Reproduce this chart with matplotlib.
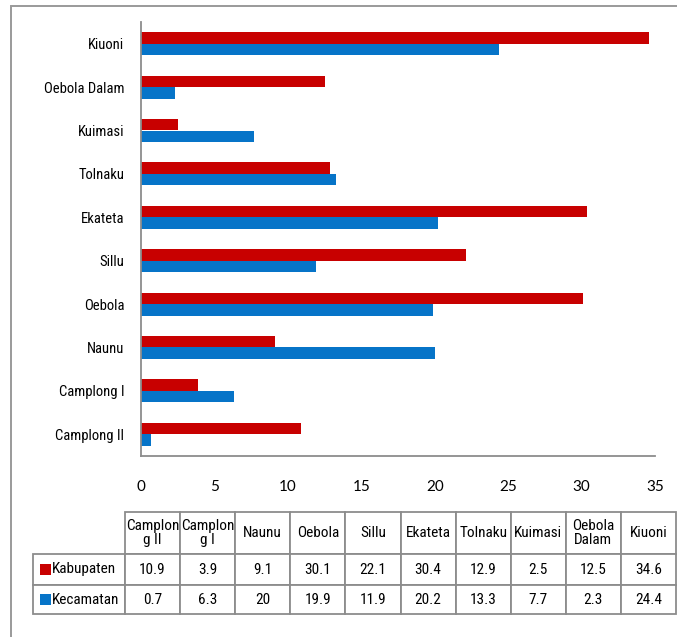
import matplotlib
matplotlib.use('Agg')
import matplotlib.pyplot as plt
from matplotlib import font_manager
from matplotlib.patches import Rectangle

# data (bottom to top of the chart, same order as the table columns)
categories = ['Camplong II', 'Camplong I', 'Naunu', 'Oebola', 'Sillu',
              'Ekateta', 'Tolnaku', 'Kuimasi', 'Oebola Dalam', 'Kiuoni']
table_headers = ['Camplon\ng II', 'Camplon\ng I', 'Naunu', 'Oebola', 'Sillu',
                 'Ekateta', 'Tolnaku', 'Kuimasi', 'Oebola\nDalam', 'Kiuoni']
kabupaten = [10.9, 3.9, 9.1, 30.1, 22.1, 30.4, 12.9, 2.5, 12.5, 34.6]
kecamatan = [0.7, 6.3, 20, 19.9, 11.9, 20.2, 13.3, 7.7, 2.3, 24.4]
kabupaten_txt = ['10.9', '3.9', '9.1', '30.1', '22.1', '30.4', '12.9', '2.5', '12.5', '34.6']
kecamatan_txt = ['0.7', '6.3', '20', '19.9', '11.9', '20.2', '13.3', '7.7', '2.3', '24.4']
series_names = ['Kabupaten', 'Kecamatan']
xticks = [0, 5, 10, 15, 20, 25, 30, 35]

RED = '#C80000'
BLUE = '#0674C8'
GRID = '#8C8C8C'


def pick_font(names):
    for n in names:
        try:
            font_manager.findfont(n, fallback_to_default=False)
            return n
        except Exception:
            continue
    return 'DejaVu Sans'


narrow = pick_font(['Liberation Sans Narrow', 'Roboto Condensed', 'Noto Sans', 'DejaVu Sans'])
tickfont = pick_font(['Lato', 'Open Sans', 'DejaVu Sans'])

W, H = 677, 637
fig = plt.figure(figsize=(W / 100, H / 100), dpi=100)

# outer frame
fig.patches.append(Rectangle((11 / W, -0.1), 1.2, 1 - 6 / H + 0.1,
                             transform=fig.transFigure, fill=False,
                             edgecolor='#9A9A9A', linewidth=1.4))

# bar chart
ax = fig.add_axes([141 / W, 1 - 456 / H, 514 / W, 434 / H])
y = list(range(len(categories)))
h = 0.265
ax.barh([v + h / 2 for v in y], kabupaten, height=h, color=RED, label=series_names[0])
ax.barh([v - h / 2 for v in y], kecamatan, height=h, color=BLUE, label=series_names[1])
ax.set_ylim(-0.5, len(categories) - 0.5)
ax.set_xlim(0, 35)
ax.set_yticks(y)
ax.set_yticklabels(categories, fontfamily=narrow, fontsize=10.5)
ax.set_xticks(xticks)
ax.set_xticklabels([str(t) for t in xticks], fontfamily=tickfont, fontsize=11)
ax.tick_params(axis='both', length=0)
ax.tick_params(axis='x', pad=17)
ax.tick_params(axis='y', pad=12)
for s in ['top', 'right']:
    ax.spines[s].set_visible(False)
for s in ['left', 'bottom']:
    ax.spines[s].set_color(GRID)
    ax.spines[s].set_linewidth(1.3)

# data table
ax_t = fig.add_axes([33 / W, 1 - 614 / H, 643 / W, 102 / H])
ax_t.axis('off')
cell_text = [[''] + table_headers,
             ['Kabupaten'] + kabupaten_txt,
             ['Kecamatan'] + kecamatan_txt]
lab_w = 92 / 643
col_w = (1 - lab_w) / len(table_headers)
tbl = ax_t.table(cellText=cell_text, cellLoc='center',
                 colWidths=[lab_w] + [col_w] * len(table_headers),
                 bbox=[0, 0, 1, 1])
tbl.auto_set_font_size(False)
row_h = [42, 31, 29]
for (r, c), cell in tbl.get_celld().items():
    cell.set_edgecolor(GRID)
    cell.set_linewidth(1.3)
    cell.set_height(row_h[r])
    cell.get_text().set_fontfamily(narrow)
    cell.get_text().set_fontsize(11)
    cell.get_text().set_linespacing(1.0)
    if r == 0 and c == 0:
        cell.visible_edges = ''
    if r > 0 and c == 0:
        cell._loc = 'left'
        cell.get_text().set_horizontalalignment('left')
        cell.PAD = 0.21

# legend keys inside the row-label cells
for i, col in enumerate([RED, BLUE]):
    yc = (29 + 31 / 2) / 102 if i == 0 else (29 / 2) / 102
    ax_t.add_patch(Rectangle((7 / 643, yc - 5.5 / 102), 11 / 643, 11 / 102,
                             transform=ax_t.transAxes, facecolor=col,
                             edgecolor='none', clip_on=False))

fig.savefig('out.png', dpi=100)
